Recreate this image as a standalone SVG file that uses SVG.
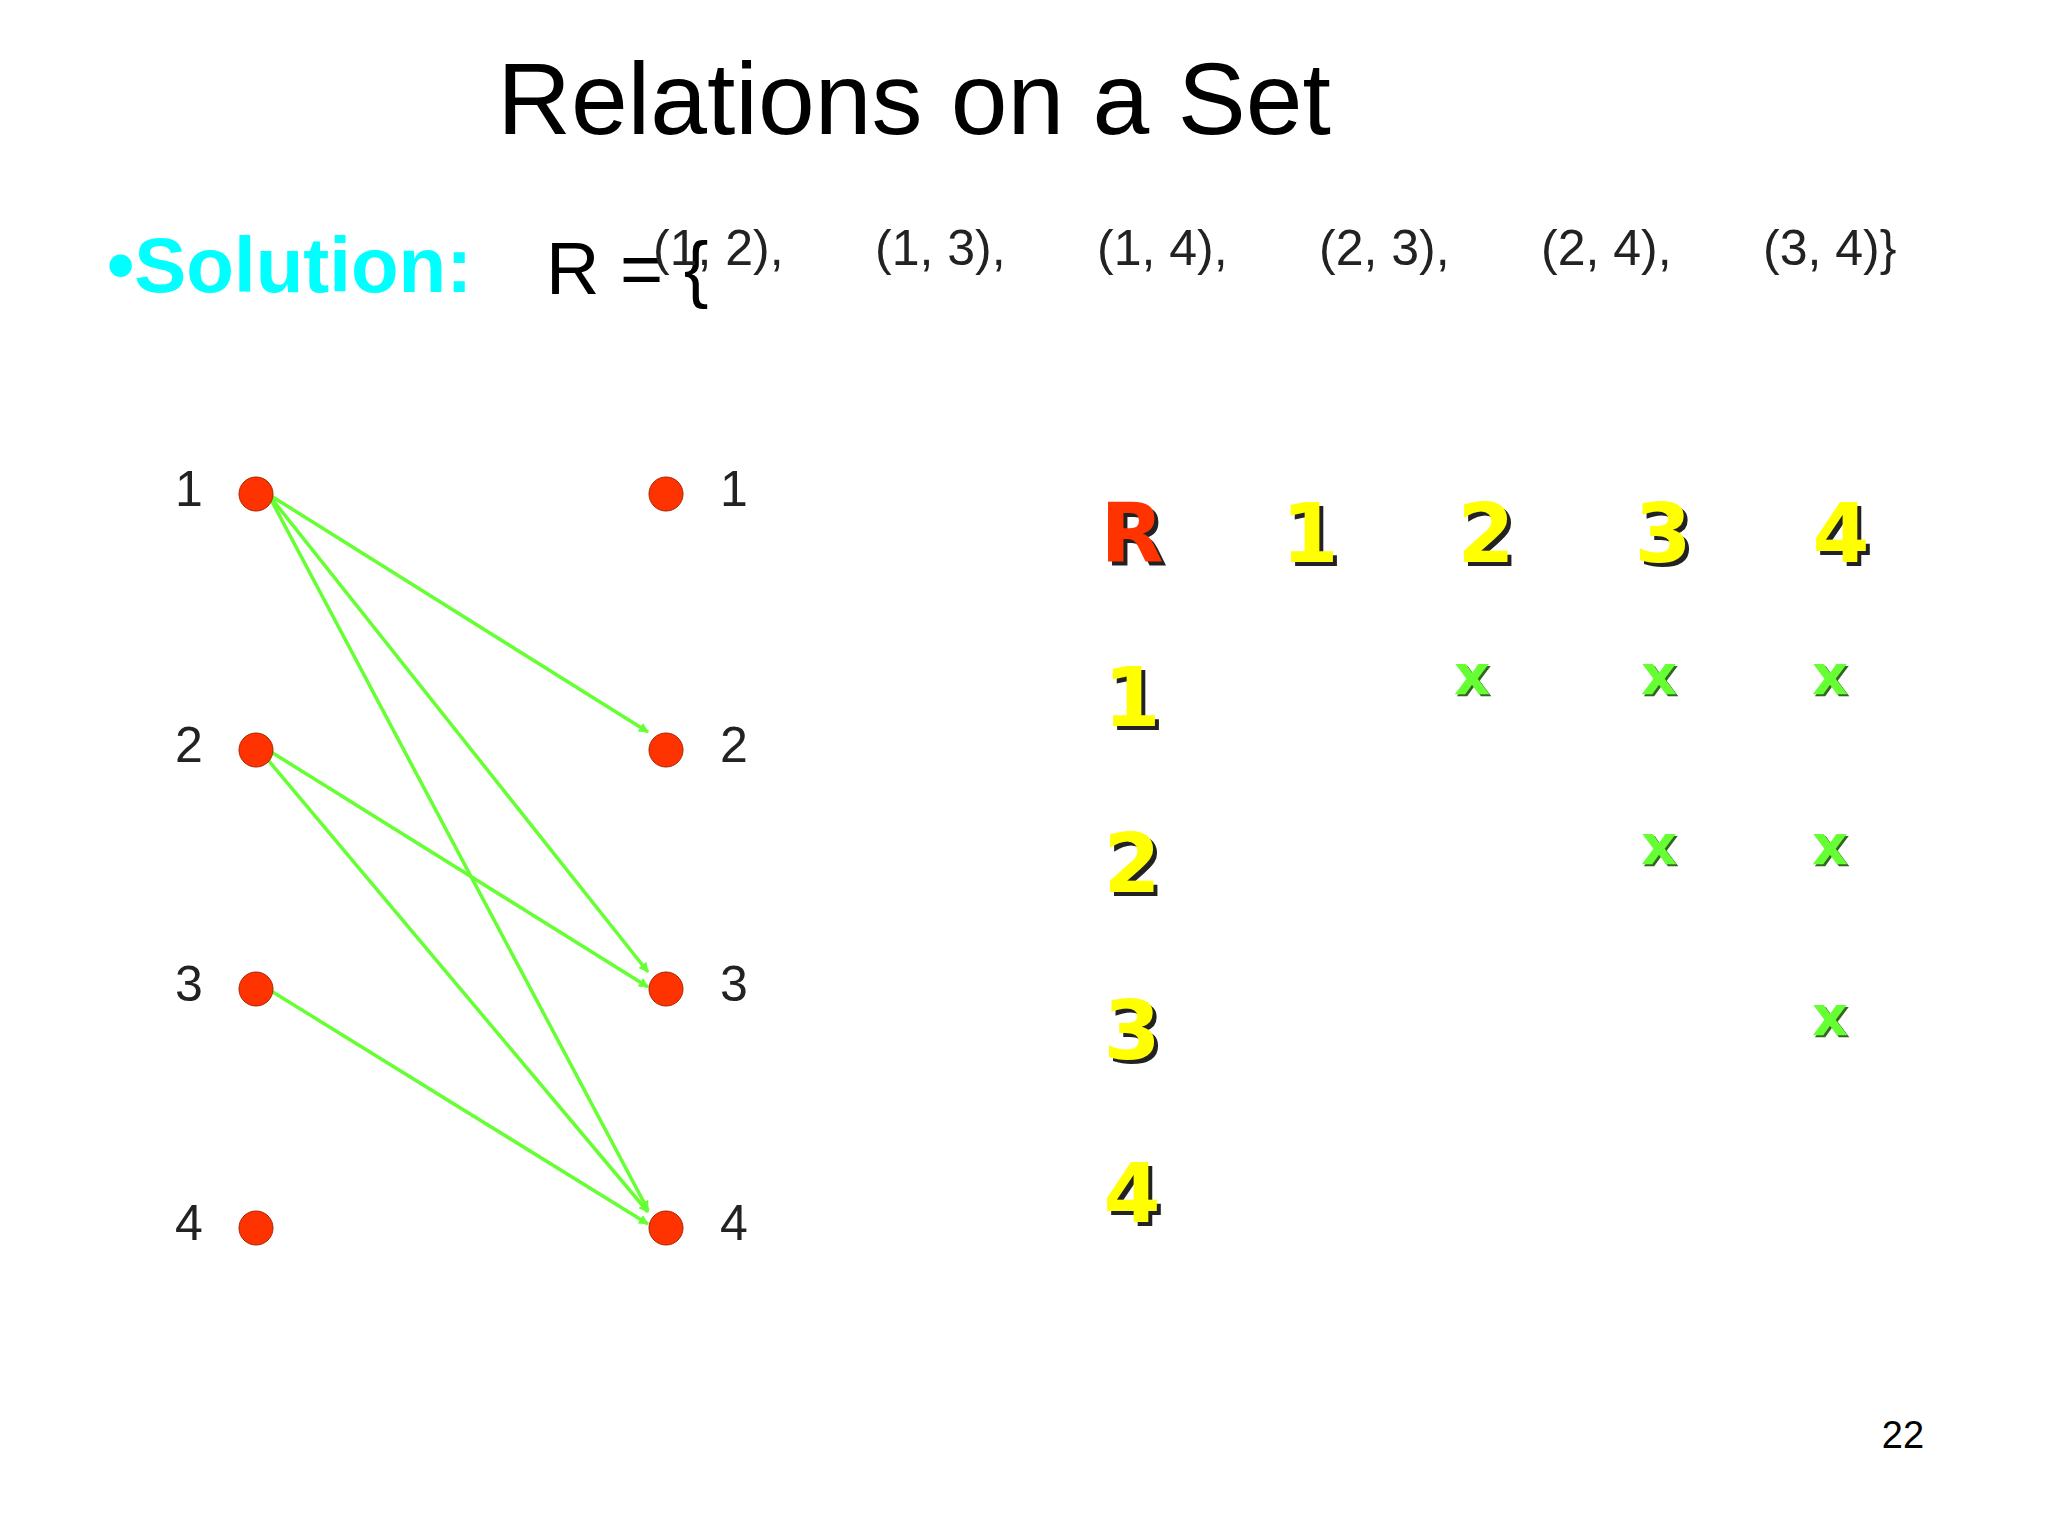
<svg xmlns="http://www.w3.org/2000/svg" width="2048" height="1536" viewBox="0 0 2048 1536">
<defs>
<style>
.t{font-family:"Liberation Sans",Arial,sans-serif;fill:#000}
.p{font-family:"Liberation Sans",Arial,sans-serif;font-size:50px;fill:#222}
.m{font-family:"DejaVu Sans",sans-serif;font-size:82px;text-anchor:middle;font-weight:bold}
.x{font-family:"DejaVu Sans",sans-serif;font-size:56px;text-anchor:middle;font-weight:bold}
.n{fill:#ff3300;stroke:#aa2200;stroke-width:1}
.e{stroke:#66ff33;stroke-width:3.5;fill:none;marker-end:url(#a)}
</style>
<marker id="a" markerWidth="10" markerHeight="10" refX="9" refY="5" orient="auto" markerUnits="userSpaceOnUse"><path d="M0,0 L10,5 L0,10 Z" fill="#66ff33"/></marker>
</defs>
<rect width="2048" height="1536" fill="#fff"/>
<text class="t" x="914" y="134" font-size="102" text-anchor="middle">Relations on a Set</text>
<text x="107" y="292" font-family="Liberation Sans,Arial,sans-serif" font-size="78" font-weight="bold" fill="#00ffff">•Solution:</text>
<text class="t" x="546" y="294" font-size="74">R = {</text>
<g class="p">
<text x="653" y="265">(1, 2),</text><text x="875" y="265">(1, 3),</text><text x="1097" y="265">(1, 4),</text><text x="1319" y="265">(2, 3),</text><text x="1541" y="265">(2, 4),</text><text x="1763" y="265">(3, 4)}</text>
</g>
<g id="connectors">
<line class="e" x1="268" y1="494" x2="648" y2="732"/>
<line class="e" x1="268" y1="494" x2="648" y2="972"/>
<line class="e" x1="268" y1="494" x2="648" y2="1210"/>
<line class="e" x1="268" y1="750" x2="648" y2="987"/>
<line class="e" x1="268" y1="760" x2="648" y2="1212"/>
<line class="e" x1="268" y1="989" x2="648" y2="1224"/>
</g>
<g id="L1"><circle class="n" cx="256" cy="494" r="17"/><text class="p" x="175" y="506">1</text></g>
<g id="L2"><circle class="n" cx="256" cy="750" r="17"/><text class="p" x="175" y="762">2</text></g>
<g id="L3"><circle class="n" cx="256" cy="989" r="17"/><text class="p" x="175" y="1001">3</text></g>
<g id="L4"><circle class="n" cx="256" cy="1228" r="17"/><text class="p" x="175" y="1240">4</text></g>
<g id="R1"><circle class="n" cx="666" cy="494" r="17"/><text class="p" x="720" y="506">1</text></g>
<g id="R2"><circle class="n" cx="666" cy="750" r="17"/><text class="p" x="720" y="762">2</text></g>
<g id="R3"><circle class="n" cx="666" cy="989" r="17"/><text class="p" x="720" y="1001">3</text></g>
<g id="R4"><circle class="n" cx="666" cy="1228" r="17"/><text class="p" x="720" y="1240">4</text></g>
<g id="matrix">
<g fill="#222">
<text class="m" x="1136" y="566">R</text><text class="m" x="1314" y="566">1</text><text class="m" x="1490" y="566">2</text><text class="m" x="1667" y="566">3</text><text class="m" x="1845" y="566">4</text>
<text class="m" x="1136" y="730">1</text><text class="m" x="1136" y="896">2</text><text class="m" x="1136" y="1063">3</text><text class="m" x="1136" y="1226">4</text>
</g>
<text class="m" x="1132" y="562" fill="#ff3300">R</text>
<g fill="#ffff00">
<text class="m" x="1310" y="562">1</text><text class="m" x="1486" y="562">2</text><text class="m" x="1663" y="562">3</text><text class="m" x="1841" y="562">4</text>
<text class="m" x="1132" y="726">1</text><text class="m" x="1132" y="892">2</text><text class="m" x="1132" y="1059">3</text><text class="m" x="1132" y="1222">4</text>
</g>
<g fill="#336622">
<text class="x" x="1474" y="696">x</text><text class="x" x="1661" y="696">x</text><text class="x" x="1832" y="696">x</text>
<text class="x" x="1661" y="866">x</text><text class="x" x="1832" y="866">x</text><text class="x" x="1832" y="1037">x</text>
</g>
<g fill="#66ff33">
<text class="x" x="1472" y="694">x</text><text class="x" x="1659" y="694">x</text><text class="x" x="1830" y="694">x</text>
<text class="x" x="1659" y="864">x</text><text class="x" x="1830" y="864">x</text><text class="x" x="1830" y="1035">x</text>
</g>
</g>
<text class="t" x="1903" y="1448" font-size="38" text-anchor="middle">22</text>
</svg>
